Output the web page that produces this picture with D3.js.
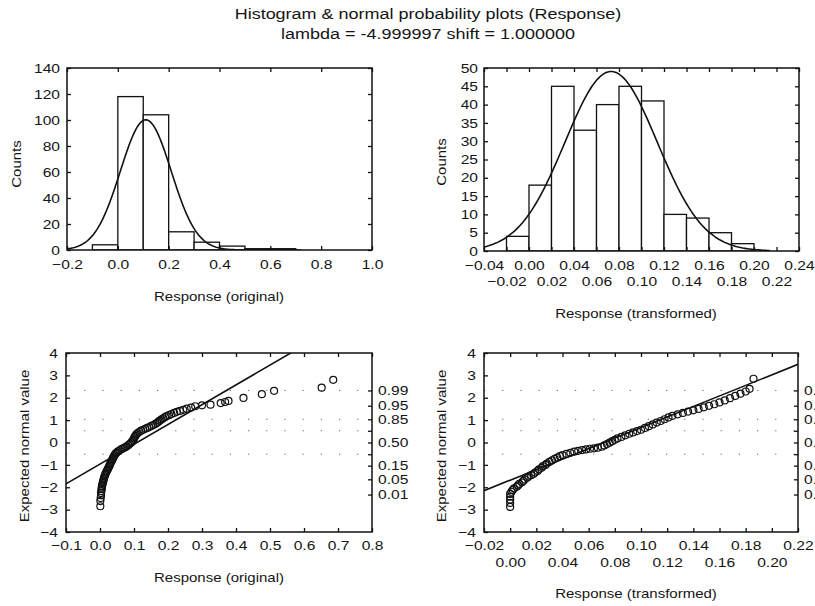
<!DOCTYPE html>
<html><head><meta charset="utf-8">
<script src="https://cdn.jsdelivr.net/npm/d3@7"></script>
<style>
body{margin:0;background:#fff}
svg{display:block}
text{font-family:"Liberation Sans",Arial,sans-serif;fill:#151515}
</style>
</head><body><svg id="c" width="815" height="606"></svg>
<script>
// ---------------- DATA ----------------
const titleLines = ["Histogram & normal probability plots (Response)", "lambda = -4.999997 shift = 1.000000"];

// Histogram of original response
const origBinStarts = [-0.1, 0.0, 0.1, 0.2, 0.3, 0.4, 0.5, 0.6];
const origCounts    = [4, 118, 104, 14, 6, 3, 1, 1];
const origBinWidth  = 0.1;
const origFit       = [0.11, 0.10];      // mean, sd of fitted normal
const origXTicks    = [-0.2, 0.0, 0.2, 0.4, 0.6, 0.8, 1.0];
const origYTicks    = [0, 20, 40, 60, 80, 100, 120, 140];

// Histogram of transformed response
const transBinStarts = [-0.02, 0.00, 0.02, 0.04, 0.06, 0.08, 0.10, 0.12, 0.14, 0.16, 0.18];
const transCounts    = [4, 18, 45, 33, 40, 45, 41, 10, 9, 5, 2];
const transBinWidth  = 0.02;
const transFit       = [0.073, 0.041];
const transXTicks    = [-0.04, -0.02, 0.00, 0.02, 0.04, 0.06, 0.08, 0.10, 0.12, 0.14, 0.16, 0.18, 0.20, 0.22, 0.24];
const transYTicks    = [0, 5, 10, 15, 20, 25, 30, 35, 40, 45, 50];

// Normal probability plots
const qqYTicks   = [-4, -3, -2, -1, 0, 1, 2, 3, 4];
const probZ      = [2.326, 1.645, 1.036, 0.524, 0, -0.524, -1.036, -1.645, -2.326];
const probLabels = ["0.99", "0.95", "0.85", "", "0.50", "", "0.15", "0.05", "0.01"];
const gridProbZ  = [2.326, 1.036, 0.524, -0.524];

const qqOrigXTicks = [-0.1, 0.0, 0.1, 0.2, 0.3, 0.4, 0.5, 0.6, 0.7, 0.8];
const qqOrigLine   = [0.109, 0.113];   // mean, sd of reference line
const qqOrigX = [0.001,0.001,0.002,0.003,0.003,0.004,0.005,0.005,0.006,0.007,0.008,0.009,0.010,0.011,0.012,0.013,0.015,0.016,0.018,0.020,0.022,0.024,0.026,0.028,0.029,0.031,0.033,0.035,0.037,0.039,0.041,0.043,0.046,0.049,0.053,0.058,0.063,0.068,0.073,0.078,0.083,0.088,0.092,0.095,0.098,0.100,0.102,0.104,0.107,0.111,0.116,0.121,0.127,0.133,0.139,0.145,0.151,0.157,0.163,0.168,0.172,0.176,0.181,0.186,0.191,0.196,0.203,0.210,0.218,0.226,0.235,0.245,0.255,0.268,0.280,0.300,0.325,0.355,0.368,0.378,0.422,0.476,0.512,0.652,0.686];
const qqOrigZ = [-2.85,-2.62,-2.48,-2.36,-2.26,-2.17,-2.09,-2.02,-1.95,-1.88,-1.82,-1.76,-1.70,-1.64,-1.58,-1.52,-1.46,-1.40,-1.34,-1.28,-1.22,-1.16,-1.10,-1.04,-0.98,-0.92,-0.86,-0.80,-0.74,-0.68,-0.62,-0.56,-0.50,-0.45,-0.40,-0.35,-0.30,-0.26,-0.22,-0.18,-0.12,-0.06,0.00,0.06,0.12,0.18,0.24,0.30,0.36,0.42,0.48,0.53,0.57,0.61,0.65,0.69,0.74,0.78,0.83,0.88,0.93,0.98,1.03,1.08,1.13,1.18,1.22,1.27,1.32,1.37,1.41,1.46,1.51,1.56,1.62,1.66,1.69,1.76,1.81,1.86,1.99,2.16,2.31,2.45,2.80];

const qqTransXTicks = [-0.02, 0.00, 0.02, 0.04, 0.06, 0.08, 0.10, 0.12, 0.14, 0.16, 0.18, 0.20, 0.22];
const qqTransLine   = [0.0715, 0.0425];
const qqTransX = [0.000,0.000,0.000,0.000,0.000,0.001,0.002,0.003,0.005,0.006,0.007,0.009,0.010,0.011,0.013,0.014,0.016,0.018,0.019,0.021,0.022,0.024,0.025,0.027,0.028,0.030,0.032,0.034,0.036,0.038,0.040,0.043,0.046,0.049,0.052,0.055,0.058,0.061,0.064,0.067,0.070,0.072,0.074,0.076,0.078,0.080,0.082,0.085,0.088,0.091,0.094,0.097,0.100,0.103,0.106,0.109,0.112,0.115,0.118,0.121,0.124,0.128,0.132,0.136,0.140,0.144,0.148,0.152,0.156,0.160,0.164,0.168,0.172,0.176,0.180,0.183,0.186];
const qqTransZ = [-2.88,-2.70,-2.55,-2.42,-2.30,-2.20,-2.12,-2.05,-1.98,-1.92,-1.85,-1.78,-1.72,-1.65,-1.58,-1.52,-1.46,-1.40,-1.34,-1.27,-1.20,-1.13,-1.06,-1.00,-0.94,-0.87,-0.80,-0.73,-0.67,-0.61,-0.56,-0.51,-0.46,-0.41,-0.37,-0.34,-0.31,-0.28,-0.26,-0.23,-0.19,-0.13,-0.07,-0.01,0.06,0.12,0.18,0.25,0.32,0.39,0.45,0.51,0.57,0.65,0.73,0.81,0.89,0.96,1.04,1.12,1.19,1.26,1.32,1.38,1.44,1.50,1.57,1.64,1.71,1.79,1.88,1.98,2.08,2.18,2.28,2.40,2.85];

// ---------------- DRAWING ----------------
const svg = d3.select("#c");
const SX = 1.2;   // horizontal stretch of the scanned lettering
const TICK_FONT = 13;
let clipId = 0;

function label(x, y, txt, size, anchor, rot) {
  return svg.append("text")
    .attr("transform", `translate(${x},${y})` + (rot ? " rotate(-90)" : "") + ` scale(${SX},1)`)
    .attr("text-anchor", anchor || "middle")
    .style("font-size", size + "px")
    .text(txt);
}

function stretchTexts(sel) {
  sel.selectAll("text").each(function () {
    const t = d3.select(this);
    const x0 = +t.attr("x") || 0;
    t.attr("x", x0 / SX).attr("transform", `scale(${SX},1)`);
  });
}

function panel(o) {
  const x = d3.scaleLinear().domain(o.xd).range([o.x0, o.x1]);
  const y = d3.scaleLinear().domain(o.yd).range([o.y1, o.y0]);
  const g = svg.append("g");
  const id = "clip" + (clipId++);
  svg.append("clipPath").attr("id", id).append("rect")
    .attr("x", o.x0).attr("y", o.y0).attr("width", o.x1 - o.x0).attr("height", o.y1 - o.y0);
  const plot = g.append("g").attr("clip-path", `url(#${id})`);

  // bottom axis
  const ax = g.append("g").attr("transform", `translate(0,${o.y1})`)
    .call(d3.axisBottom(x).tickValues(o.xt).tickSizeInner(-4).tickSizeOuter(0)
      .tickPadding(o.xpad).tickFormat(d3.format(o.xf)));
  ax.selectAll("text").style("font-size", TICK_FONT + "px");
  if (o.stagger) {
    ax.selectAll(".tick text").each(function (d, i) {
      if (i % 2 === 1) d3.select(this).attr("y", +d3.select(this).attr("y") + o.stagger);
    });
  }
  stretchTexts(ax);
  // top axis
  g.append("g").attr("transform", `translate(0,${o.y0})`)
    .call(d3.axisTop(x).tickValues(o.xt).tickSizeInner(-4).tickSizeOuter(0).tickFormat(""));
  // left axis
  const ay = g.append("g").attr("transform", `translate(${o.x0},0)`)
    .call(d3.axisLeft(y).tickValues(o.yt).tickSizeInner(-4).tickSizeOuter(0)
      .tickPadding(o.ypad).tickFormat(d3.format("d")));
  ay.selectAll("text").style("font-size", TICK_FONT + "px");
  stretchTexts(ay);
  // right axis
  const ar = g.append("g").attr("transform", `translate(${o.x1},0)`);
  if (o.prob) {
    ar.call(d3.axisRight(y).tickValues(probZ).tickSizeInner(-4).tickSizeOuter(0)
      .tickPadding(6).tickFormat((d, i) => probLabels[i]));
    ar.selectAll("text").style("font-size", TICK_FONT + "px");
    stretchTexts(ar);
  } else {
    ar.call(d3.axisRight(y).tickValues(o.yt).tickSizeInner(-4).tickSizeOuter(0).tickFormat(""));
  }
  g.selectAll(".domain").remove();
  g.selectAll(".tick line").attr("stroke", "#111").attr("stroke-width", 1.3);

  return { x, y, g, plot,
    frame() {
      g.append("rect").attr("x", o.x0).attr("y", o.y0)
        .attr("width", o.x1 - o.x0).attr("height", o.y1 - o.y0)
        .attr("fill", "none").attr("stroke", "#111").attr("stroke-width", 1.5);
    } };
}

function normalDensity(v, mean, sd) {
  return Math.exp(-0.5 * ((v - mean) / sd) ** 2) / (sd * Math.sqrt(2 * Math.PI));
}

// Titles
label(428, 19, titleLines[0], 15, "middle");
label(428, 39, titleLines[1], 15, "middle");

// ---- Panel 1: histogram original ----
{
  const p = panel({ x0: 67, x1: 372, y0: 68, y1: 250, xd: [-0.2, 1.0], yd: [0, 140],
    xt: origXTicks, yt: origYTicks, xf: ".1f", xpad: 10, ypad: 7 });
  const N = d3.sum(origCounts);
  p.plot.selectAll("rect.bar").data(origCounts).join("rect")
    .attr("x", (d, i) => p.x(origBinStarts[i]))
    .attr("width", (d, i) => p.x(origBinStarts[i] + origBinWidth) - p.x(origBinStarts[i]))
    .attr("y", d => p.y(d)).attr("height", d => p.y(0) - p.y(d))
    .attr("fill", "#fff").attr("stroke", "#111").attr("stroke-width", 1.3);
  const xs = d3.range(-0.2, 0.7201, 0.004);
  p.plot.append("path").datum(xs)
    .attr("d", d3.line().x(v => p.x(v)).y(v => p.y(N * origBinWidth * normalDensity(v, origFit[0], origFit[1]))))
    .attr("fill", "none").attr("stroke", "#111").attr("stroke-width", 1.6);
  p.frame();
  label(219, 301, "Response (original)", 12.5, "middle");
  label(21, 164, "Counts", 12.5, "middle", true);
}

// ---- Panel 2: histogram transformed ----
{
  const p = panel({ x0: 484, x1: 799, y0: 68, y1: 251, xd: [-0.04, 0.24], yd: [0, 50],
    xt: transXTicks, yt: transYTicks, xf: ".2f", xpad: 10, stagger: 16, ypad: 6 });
  const N = d3.sum(transCounts);
  p.plot.selectAll("rect.bar").data(transCounts).join("rect")
    .attr("x", (d, i) => p.x(transBinStarts[i]))
    .attr("width", (d, i) => p.x(transBinStarts[i] + transBinWidth) - p.x(transBinStarts[i]))
    .attr("y", d => p.y(d)).attr("height", d => p.y(0) - p.y(d))
    .attr("fill", "#fff").attr("stroke", "#111").attr("stroke-width", 1.3);
  const xs = d3.range(-0.04, 0.2151, 0.002);
  p.plot.append("path").datum(xs)
    .attr("d", d3.line().x(v => p.x(v)).y(v => p.y(N * transBinWidth * normalDensity(v, transFit[0], transFit[1]))))
    .attr("fill", "none").attr("stroke", "#111").attr("stroke-width", 1.6);
  p.frame();
  label(636, 318, "Response (transformed)", 12.5, "middle");
  label(446, 162, "Counts", 12.5, "middle", true);
}

// ---- Panels 3 & 4: normal probability plots ----
function qqPanel(o, xsData, zsData, line, xLabel, xLabelPos, yLabelX) {
  const p = panel(Object.assign({ y0: 353, y1: 532, yd: [-4, 4], yt: qqYTicks, xpad: 9, ypad: 8, prob: true }, o));
  // sparse dotted grid
  p.plot.selectAll("line.grid").data(gridProbZ).join("line")
    .attr("x1", o.x0).attr("x2", o.x1).attr("y1", d => p.y(d)).attr("y2", d => p.y(d))
    .attr("stroke", "#666").attr("stroke-width", 1).attr("stroke-dasharray", "1.2,17");
  // reference line
  p.plot.append("line")
    .attr("x1", p.x(o.xd[0])).attr("y1", p.y((o.xd[0] - line[0]) / line[1]))
    .attr("x2", p.x(o.xd[1])).attr("y2", p.y((o.xd[1] - line[0]) / line[1]))
    .attr("stroke", "#111").attr("stroke-width", 1.6);
  // points
  p.plot.selectAll("circle").data(xsData).join("circle")
    .attr("cx", d => p.x(d)).attr("cy", (d, i) => p.y(zsData[i])).attr("r", 3.5)
    .attr("fill", "none").attr("stroke", "#111").attr("stroke-width", 1.2);
  p.frame();
  label(xLabelPos[0], xLabelPos[1], xLabel, 12.5, "middle");
  label(yLabelX, 446, "Expected normal value", 12.5, "middle", true);
}

qqPanel({ x0: 66, x1: 372, xd: [-0.1, 0.8], xt: qqOrigXTicks, xf: ".1f" },
  qqOrigX, qqOrigZ, qqOrigLine, "Response (original)", [219, 582], 29);
qqPanel({ x0: 484, x1: 798, xd: [-0.02, 0.22], xt: qqTransXTicks, xf: ".2f", stagger: 17 },
  qqTransX, qqTransZ, qqTransLine, "Response (transformed)", [636, 598], 446);
</script></body></html>
